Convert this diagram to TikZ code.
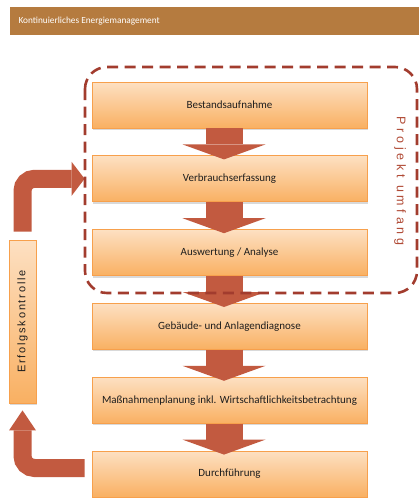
\documentclass[tikz,border=0pt]{standalone}
\usepackage{fontspec}
\setmainfont{Carlito}
\newfontfamily\sidefont[LetterSpace=16]{Liberation Sans}
\newfontfamily\scopefont[LetterSpace=30]{Liberation Sans}
\usetikzlibrary{positioning, calc, arrows.meta, shadows}

\definecolor{headbrown}{HTML}{B57B3F}
\definecolor{boxtop}{HTML}{FDE0C2}
\definecolor{boxbot}{HTML}{F9B062}
\definecolor{boxline}{HTML}{F7A04C}
\definecolor{arrowred}{HTML}{C25A40}
\definecolor{dashred}{HTML}{A23C2E}
\definecolor{scopered}{HTML}{B04A35}
\definecolor{textdark}{HTML}{1E1E1E}

\tikzset{
  stepbox/.style={draw=boxline, line width=0.8pt, top color=boxtop, bottom color=boxbot,
    minimum width=275pt, minimum height=46pt, inner sep=0pt, text=textdark,
    font=\fontsize{11}{13}\selectfont,
    drop shadow={shadow xshift=0.6pt, shadow yshift=-2pt, opacity=0.3}},
  sidebar/.style={draw=boxline, line width=0.8pt, top color=boxtop, bottom color=boxbot,
    minimum width=163pt, minimum height=27pt, inner sep=0pt, text=textdark,
    font=\sidefont\fontsize{11}{13}\selectfont,
    drop shadow={shadow xshift=0.6pt, shadow yshift=-2pt, opacity=0.3}},
  flowarrow/.style={draw=arrowred, line width=37pt,
    -{Triangle[width=83pt, length=15pt, line width=0pt]}},
  backarrow/.style={draw=arrowred, line width=18pt, rounded corners=12pt},
}

\begin{document}
\begin{tikzpicture}[x=1pt, y=-1pt]
  \useasboundingbox (0,0) rectangle (419,498);

  % header bar
  \fill[headbrown] (10,7) rectangle (419,35);
  \node[anchor=west, text=white, font=\fontsize{9.3}{11}\selectfont] (title) at (15,21) {Kontinuierliches Energiemanagement};

  % the six steps
  \node[stepbox] (best)  at (229.5,105)   {Bestandsaufnahme};
  \node[stepbox] (verb)  at (229.5,178.8) {Verbrauchserfassung};
  \node[stepbox] (ausw)  at (229.5,252.6) {Auswertung / Analyse};
  \node[stepbox] (gebd)  at (229.5,326.4) {Gebäude- und Anlagendiagnose};
  \node[stepbox] (mass)  at (229.5,400.2) {Maßnahmenplanung inkl. Wirtschaftlichkeitsbetrachtung};
  \node[stepbox] (durch) at (229.5,474)   {Durchführung};

  \draw[flowarrow] ($(best.south)+(-5.5,0)$) -- ($(verb.north)+(-5.5,4)$);
  \draw[flowarrow] ($(verb.south)+(-5.5,0)$) -- ($(ausw.north)+(-5.5,4)$);
  \draw[flowarrow] ($(ausw.south)+(-5.5,0)$) -- ($(gebd.north)+(-5.5,4)$);
  \draw[flowarrow] ($(gebd.south)+(-5.5,0)$) -- ($(mass.north)+(-5.5,4)$);
  \draw[flowarrow] ($(mass.south)+(-5.5,0)$) -- ($(durch.north)+(-5.5,4)$);

  % feedback loop
  \node[sidebar, rotate=90] (erf) at (22.5,321.5) {Erfolgskontrolle};
  \draw[backarrow, -{Triangle[width=34pt, length=13pt, line width=0pt]}]
    ($(erf.east)+(0,-8)$) |- ($(verb.west)+(-7,0)$);
  \draw[backarrow, -{Triangle[width=27pt, length=20pt, line width=0pt]}]
    ($(durch.west)+(-7,-6)$) -| ($(erf.west)+(0,7)$);

  % project scope
  \draw[dashred, line width=2.6pt, dash pattern=on 11pt off 6.5pt, rounded corners=22pt]
    (85,67) rectangle (417,293);
  \node[rotate=-90, text=scopered, font=\scopefont\fontsize{12.5}{14}\selectfont] (proj) at (400,181) {Projekt umfang};
\end{tikzpicture}
\end{document}
